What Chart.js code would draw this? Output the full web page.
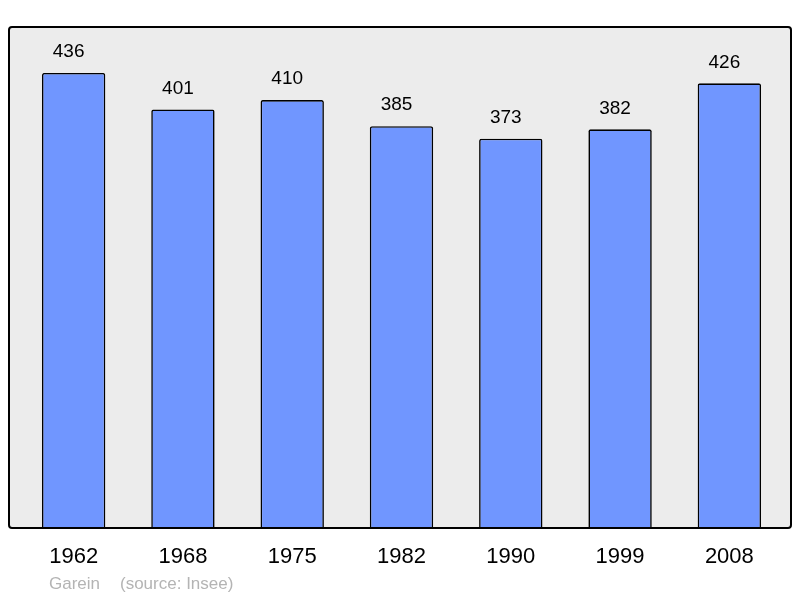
<!DOCTYPE html>
<html>
<head>
<meta charset="utf-8">
<script src="https://cdn.jsdelivr.net/npm/chart.js@4"></script>
<style>
  html, body { margin: 0; padding: 0; background: #ffffff; }
  #wrap { width: 800px; height: 598px; }
</style>
</head>
<body>
<div id="wrap"><canvas id="popChart"></canvas></div>
<script>
// Population data
const years = ['1962', '1968', '1975', '1982', '1990', '1999', '2008'];
const population = [436, 401, 410, 385, 373, 382, 426];
const yMax = 480;
const commune = 'Garein';
const source = '(source: Insee)';

// Grey framed background behind the bars
const framePlugin = {
    id: 'frame',
    beforeDraw(chart) {
        const ctx = chart.ctx;
        const a = chart.chartArea;
        const x0 = a.left - 10, x1 = a.right + 7, y0 = a.top, y1 = a.bottom;
        ctx.save();
        ctx.beginPath();
        ctx.roundRect(x0, y0, x1 - x0, y1 - y0, 3);
        ctx.fillStyle = '#ececec';
        ctx.fill();
        ctx.restore();
    },
    afterDatasetsDraw(chart) {
        const ctx = chart.ctx;
        const a = chart.chartArea;
        const x0 = a.left - 10, x1 = a.right + 7, y0 = a.top, y1 = a.bottom;
        ctx.save();
        ctx.beginPath();
        ctx.roundRect(x0, y0, x1 - x0, y1 - y0, 3);
        ctx.lineWidth = 2;
        ctx.strokeStyle = '#000000';
        ctx.stroke();

        // value labels above bars
        const meta = chart.getDatasetMeta(0);
        ctx.fillStyle = '#000000';
        ctx.font = '19px "Liberation Sans", Arial, sans-serif';
        ctx.textAlign = 'center';
        ctx.textBaseline = 'middle';
        meta.data.forEach((bar, i) => {
            ctx.fillText(String(population[i]), bar.x - 5, bar.y - 21);
        });

        // footer
        ctx.fillStyle = '#b4b4b4';
        ctx.font = '17px "Liberation Sans", Arial, sans-serif';
        ctx.textAlign = 'left';
        ctx.fillText(commune, 49, 584);
        ctx.fillText(source, 120, 584);
        ctx.restore();
    }
};

document.addEventListener('DOMContentLoaded', function() {
    const ctx = document.getElementById('popChart').getContext('2d');
    new Chart(ctx, {
        type: 'bar',
        data: {
            labels: years,
            datasets: [{
                data: population,
                backgroundColor: 'rgb(112, 150, 255)',
                borderColor: '#000000',
                borderWidth: 1.6,
                borderSkipped: 'bottom',
                borderRadius: 2,
                barPercentage: 0.58,
                categoryPercentage: 1
            }]
        },
        options: {
            responsive: true,
            maintainAspectRatio: false,
            animation: false,
            layout: { padding: { left: 19, right: 16, top: 27, bottom: 0 } },
            plugins: {
                legend: { display: false },
                tooltip: { enabled: false }
            },
            scales: {
                x: {
                    grid: { display: false, drawTicks: false },
                    border: { display: false },
                    ticks: {
                        color: '#000000',
                        padding: 16,
                        font: { family: '"Liberation Sans", Arial, sans-serif', size: 22 }
                    },
                    afterFit(scale) { scale.height = 70; }
                },
                y: {
                    display: false,
                    min: 0,
                    max: yMax
                }
            }
        },
        plugins: [framePlugin]
    });
});
</script>
</body>
</html>
